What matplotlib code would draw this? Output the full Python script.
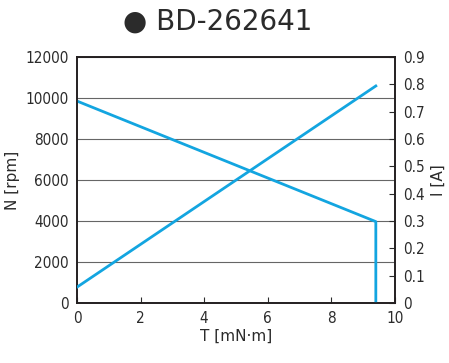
import matplotlib
matplotlib.use("Agg")
import matplotlib.pyplot as plt

torque_speed = [0, 9.4, 9.4]
speed = [9850, 3970, 0]
torque_current = [0, 9.4]
current = [0.058, 0.794]
x_ticks = [0, 2, 4, 6, 8, 10]
n_ticks = [0, 2000, 4000, 6000, 8000, 10000, 12000]
i_ticks = [0, 0.1, 0.2, 0.3, 0.4, 0.5, 0.6, 0.7, 0.8, 0.9]

plt.rcParams['font.family'] = ['DejaVu Sans']
txt = '#2b2b2b'
blue = '#13a5e0'

fig = plt.figure(figsize=(4.49, 3.63), dpi=100)
ax = fig.add_axes([0.1715, 0.1653, 0.708, 0.6777])
ax2 = ax.twinx()

ax.plot(torque_speed, speed, color=blue, lw=2.0, zorder=3)
ax2.plot(torque_current, current, color=blue, lw=2.0, zorder=3)

ax.set_xlim(0, 10)
ax.set_ylim(0, 12000)
ax2.set_ylim(0, 0.9)
ax.set_xticks(x_ticks)
ax.set_yticks(n_ticks)
ax.set_yticklabels([str(v) for v in n_ticks])
ax2.set_yticks(i_ticks)
ax2.set_yticklabels(['0' if v == 0 else f'{v:.1f}' for v in i_ticks])
ax.grid(axis='y', color='#666666', lw=0.8)
ax.tick_params(axis='x', direction='in', length=4, colors=txt, labelsize=11, pad=6)
ax.tick_params(axis='y', length=0, colors=txt, labelsize=11, pad=6)
ax2.tick_params(axis='y', direction='in', length=4, colors=txt, labelsize=11, pad=6)
for a in (ax, ax2):
    for s in a.spines.values():
        s.set_color('#231f20')
        s.set_linewidth(1.2)
    for lab in a.get_xticklabels() + a.get_yticklabels():
        lab.set_fontstretch('condensed')

ax.set_xlabel('T [mN·m]', color=txt, fontsize=11, labelpad=2)
ax.set_ylabel('N [rpm]', color=txt, fontsize=11, labelpad=4)
ax2.set_ylabel('I [A]', color=txt, fontsize=11, labelpad=4)

fig.text(0.484, 0.94, '● BD-262641', ha='center', va='center', fontsize=20, color=txt)

fig.savefig('out.png', dpi=100)
